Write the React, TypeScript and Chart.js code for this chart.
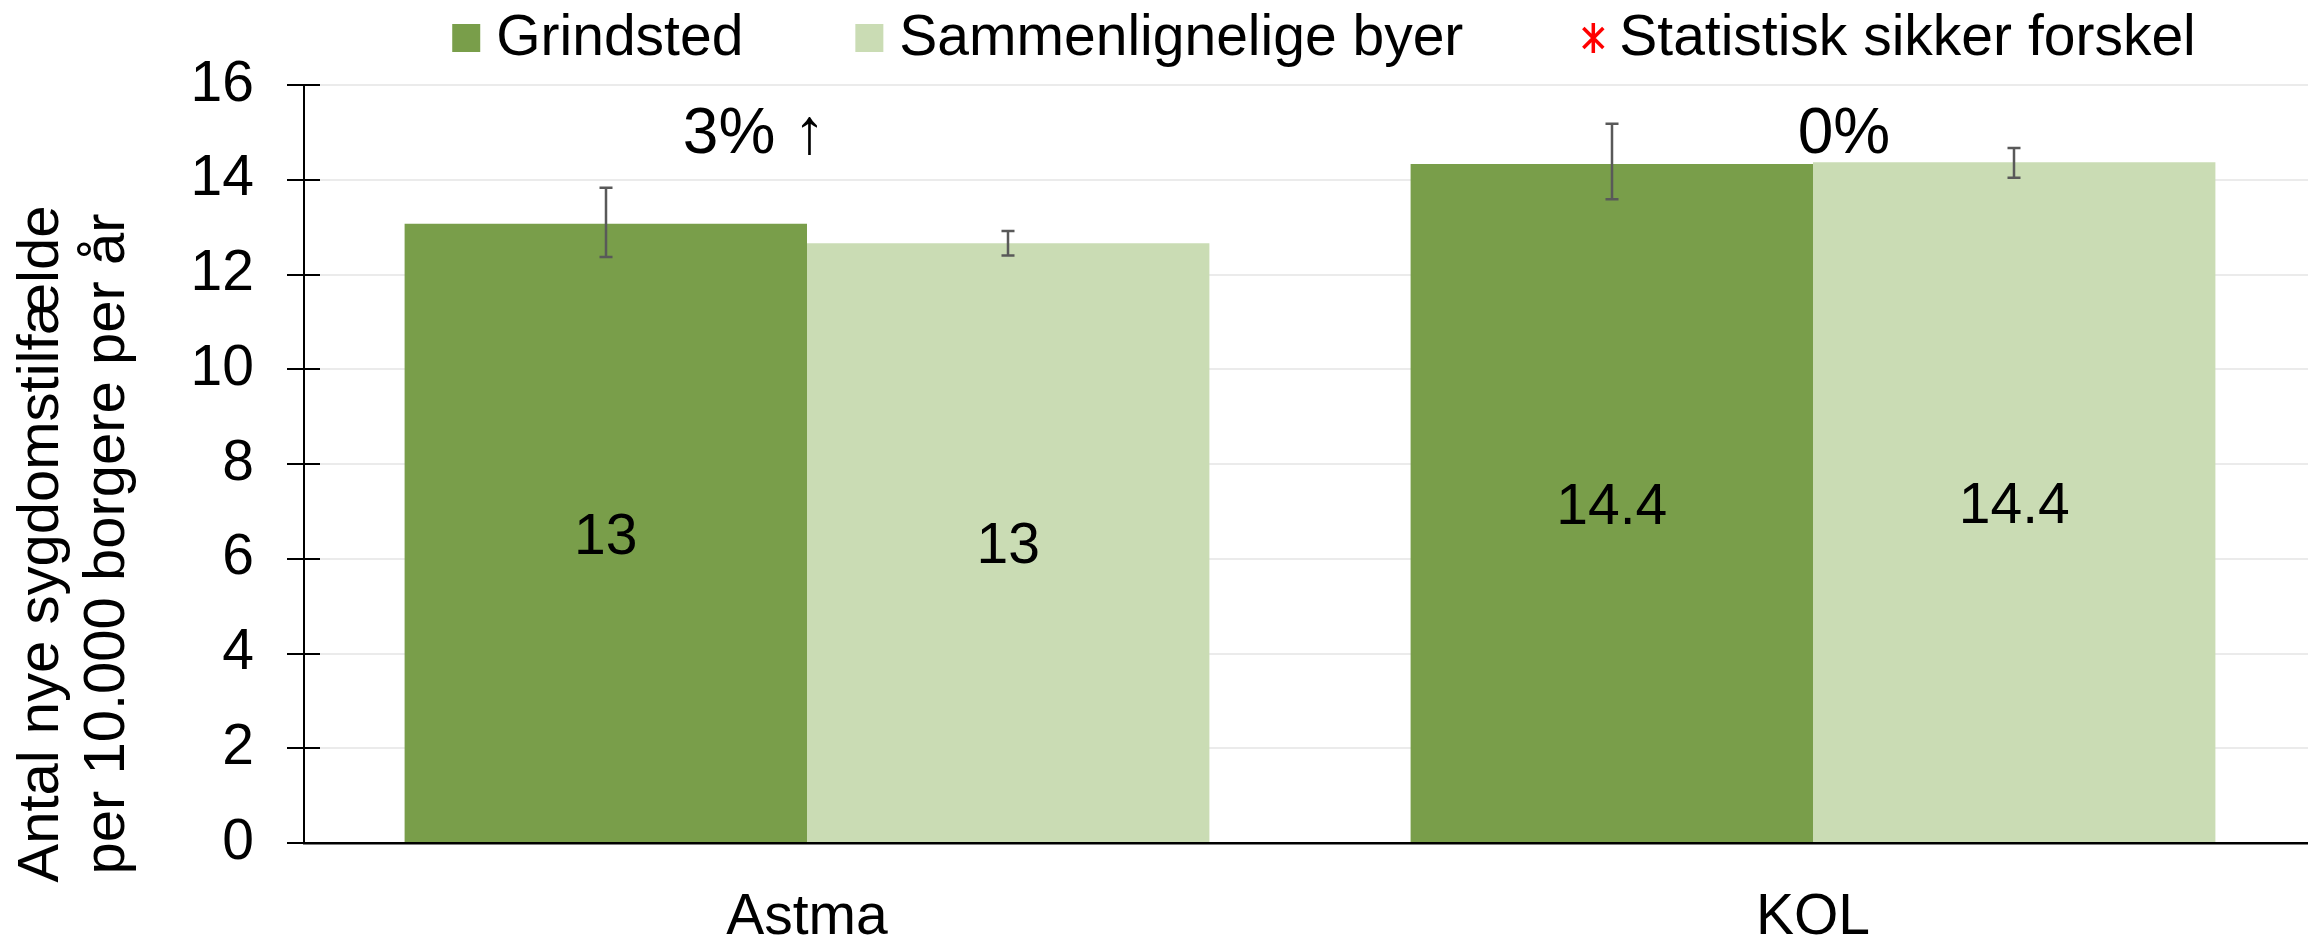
import React, { useEffect, useRef } from 'react';
import { Chart, registerables } from 'chart.js';

Chart.register(...registerables);

const categories = ['Astma', 'KOL'];
const seriesNames = ['Grindsted', 'Sammenlignelige byer'];
const grindstedValues = [13.07, 14.33];
const sammenligneligeValues = [12.66, 14.37];
const grindstedErrLow = [12.37, 13.59];
const grindstedErrHigh = [13.83, 15.18];
const sammenligneligeErrLow = [12.4, 14.04];
const sammenligneligeErrHigh = [12.92, 14.67];
const grindstedLabels = ['13', '14.4'];
const sammenligneligeLabels = ['13', '14.4'];
const changeLabels = ['3% \u2191', '0%'];
const significanceLabel = 'Statistisk sikker forskel';
const yTitleLines = ['Antal nye sygdomstilf\u00e6lde', 'per 10.000 borgere per \u00e5r'];
const yMin = 0;
const yMax = 16;
const yStep = 2;

const DARK = '#799E4A';
const LIGHT = '#CADCB4';
const FONT = '"Liberation Sans", Arial, Helvetica, sans-serif';

const errLows = [grindstedErrLow, sammenligneligeErrLow];
const errHighs = [grindstedErrHigh, sammenligneligeErrHigh];
const barLabels = [grindstedLabels, sammenligneligeLabels];

const overlayPlugin = {
  id: 'overlay',
  afterDatasetsDraw(chart: any) {
    const ctx = chart.ctx;
    const y = chart.scales.y;
    ctx.save();
    // error bars
    ctx.strokeStyle = '#595959';
    ctx.lineWidth = 2.5;
    for (let d = 0; d < chart.data.datasets.length; d++) {
      const meta = chart.getDatasetMeta(d);
      meta.data.forEach((bar: any, j: number) => {
        const yh = y.getPixelForValue(errHighs[d][j]);
        const yl = y.getPixelForValue(errLows[d][j]);
        const x = Math.round(bar.x);
        ctx.beginPath();
        ctx.moveTo(x, yh);
        ctx.lineTo(x, yl);
        ctx.moveTo(x - 6.5, yh);
        ctx.lineTo(x + 6.5, yh);
        ctx.moveTo(x - 6.5, yl);
        ctx.lineTo(x + 6.5, yl);
        ctx.stroke();
      });
    }
    // value labels
    ctx.fillStyle = '#000';
    ctx.font = `57px ${FONT}`;
    ctx.textAlign = 'center';
    ctx.textBaseline = 'middle';
    for (let d = 0; d < chart.data.datasets.length; d++) {
      const meta = chart.getDatasetMeta(d);
      meta.data.forEach((bar: any, j: number) => {
        ctx.fillText(barLabels[d][j], bar.x, (bar.y + bar.base) / 2 + 5);
      });
    }
    ctx.restore();
  },
  afterDraw(chart: any) {
    const ctx = chart.ctx;
    const xs = chart.scales.x;
    const ys = chart.scales.y;
    const area = chart.chartArea;
    ctx.save();

    // cross ticks (inner part) on y axis
    ctx.strokeStyle = '#000';
    ctx.lineWidth = 2;
    for (let v = yMin; v <= yMax; v += yStep) {
      const py = Math.round(ys.getPixelForValue(v));
      ctx.beginPath();
      ctx.moveTo(area.left, py);
      ctx.lineTo(area.left + 16, py);
      ctx.stroke();
    }

    // change annotations
    ctx.fillStyle = '#000';
    ctx.font = `64px ${FONT}`;
    ctx.textAlign = 'center';
    ctx.textBaseline = 'alphabetic';
    const offsets = [-53, 31];
    changeLabels.forEach((t, i) => {
      ctx.fillText(t, xs.getPixelForValue(i) + offsets[i], ys.getPixelForValue(14.56));
    });

    // y-axis title
    ctx.font = `58px ${FONT}`;
    ctx.textBaseline = 'middle';
    ctx.textAlign = 'center';
    const titleCenterY = 544;
    const lineX = [42, 108];
    yTitleLines.forEach((t, i) => {
      ctx.save();
      ctx.translate(lineX[i], titleCenterY);
      ctx.rotate(-Math.PI / 2);
      ctx.fillText(t, 0, 0);
      ctx.restore();
    });

    // legend
    ctx.font = `57px ${FONT}`;
    ctx.textAlign = 'left';
    ctx.textBaseline = 'alphabetic';
    const items = [
      { kind: 'box', color: chart.data.datasets[0].backgroundColor, text: chart.data.datasets[0].label },
      { kind: 'box', color: chart.data.datasets[1].backgroundColor, text: chart.data.datasets[1].label },
      { kind: 'star', color: '#FF0000', text: significanceLabel },
    ];
    const box = 28;
    const gapBoxText = 16;
    const gapItems = 112;
    const widths = items.map((it) => box + gapBoxText + ctx.measureText(it.text).width);
    const total = widths.reduce((a, b) => a + b, 0) + gapItems * (items.length - 1);
    let lx = (area.left + area.right) / 2 + 14 - total / 2;
    const boxTop = 24;
    const baseline = 55;
    items.forEach((it, i) => {
      if (it.kind === 'box') {
        ctx.fillStyle = it.color;
        ctx.fillRect(lx, boxTop, box, box);
      } else {
        const cx = lx + box / 2 + 4;
        const cy = boxTop + box / 2;
        ctx.strokeStyle = it.color;
        ctx.lineWidth = 3.5;
        ctx.beginPath();
        ctx.moveTo(cx, cy - 15);
        ctx.lineTo(cx, cy + 15);
        ctx.moveTo(cx - 10, cy - 10);
        ctx.lineTo(cx + 10, cy + 10);
        ctx.moveTo(cx - 10, cy + 10);
        ctx.lineTo(cx + 10, cy - 10);
        ctx.stroke();
      }
      ctx.fillStyle = '#000';
      ctx.fillText(it.text, lx + box + gapBoxText, baseline);
      lx += widths[i] + gapItems;
    });

    ctx.restore();
  },
};

export default function App() {
  const canvasRef = useRef<HTMLCanvasElement | null>(null);

  useEffect(() => {
    document.body.style.margin = '0';
    const canvas = canvasRef.current;
    if (!canvas) return;
    const chart = new Chart(canvas, {
      type: 'bar',
      data: {
        labels: categories,
        datasets: [
          {
            label: seriesNames[0],
            data: grindstedValues,
            backgroundColor: DARK,
            borderWidth: 0,
            categoryPercentage: 0.8,
            barPercentage: 1.0,
          },
          {
            label: seriesNames[1],
            data: sammenligneligeValues,
            backgroundColor: LIGHT,
            borderWidth: 0,
            categoryPercentage: 0.8,
            barPercentage: 1.0,
          },
        ],
      },
      options: {
        responsive: true,
        maintainAspectRatio: false,
        animation: false,
        layout: { padding: { top: 85, left: 0, right: 0, bottom: 0 } },
        plugins: {
          legend: { display: false },
          tooltip: { enabled: false },
          title: { display: false },
        },
        scales: {
          x: {
            z: 1,
            grid: { display: false, drawTicks: false },
            border: { display: true, color: '#000', width: 2.5 },
            ticks: {
              color: '#000',
              font: { family: FONT, size: 57 },
              padding: 41,
            },
            afterFit(scale: any) {
              scale.height = 97;
            },
          },
          y: {
            min: yMin,
            max: yMax,
            grid: {
              color: (c: any) => (c.tick && c.tick.value === 0 ? 'rgba(0,0,0,0)' : '#EBEBEB'),
              lineWidth: 2,
              tickColor: '#000',
              tickLength: 17,
              tickWidth: 2,
              drawTicks: true,
            },
            border: { display: true, color: '#000', width: 2 },
            ticks: {
              stepSize: yStep,
              color: '#000',
              font: { family: FONT, size: 57 },
              padding: 33,
            },
            afterFit(scale: any) {
              scale.width = 304;
            },
          },
        },
      },
      plugins: [overlayPlugin],
    });
    return () => chart.destroy();
  }, []);

  return (
    <div style={{ position: 'fixed', left: 0, top: 0, width: 2308, height: 940, overflow: 'hidden' }}>
      <div style={{ position: 'relative', width: 2316, height: 940 }}>
        <canvas ref={canvasRef} />
      </div>
    </div>
  );
}
